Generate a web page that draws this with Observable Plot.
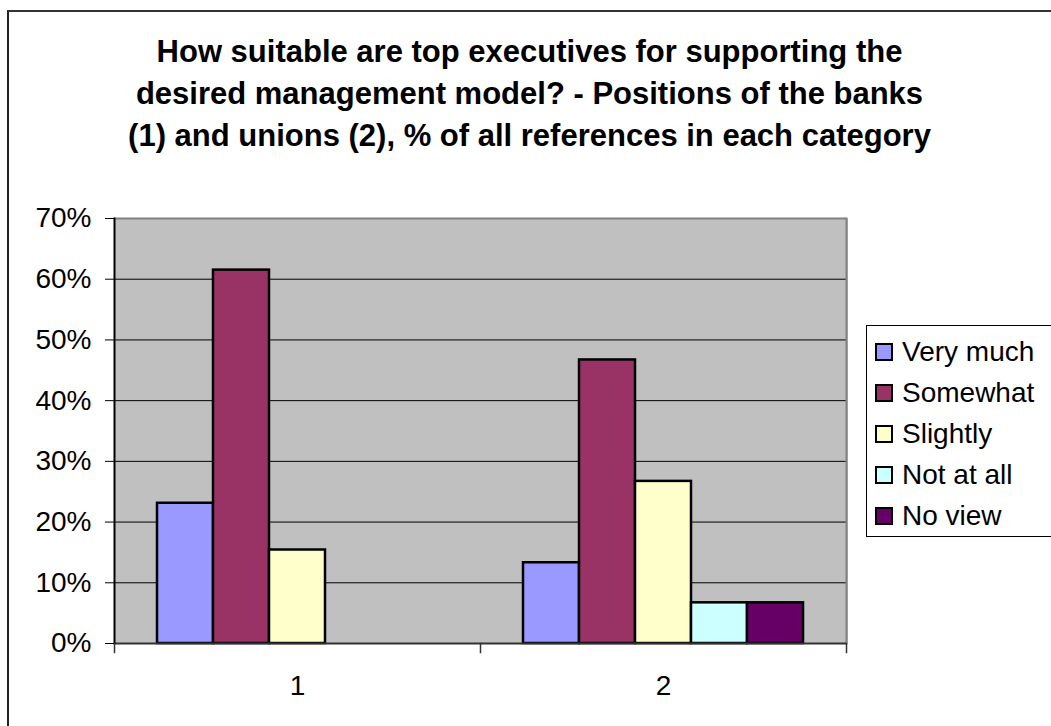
<!DOCTYPE html>
<html>
<head>
<meta charset="utf-8">
<script src="https://cdn.jsdelivr.net/npm/d3@7"></script>
<script src="https://cdn.jsdelivr.net/npm/@observablehq/plot@0.6"></script>
<style>
  html, body { margin: 0; padding: 0; background: #fff; }
  body { width: 1051px; height: 726px; overflow: hidden; position: relative; font-family: Arial, "Liberation Sans", sans-serif; }
  #border { position: absolute; left: 7px; top: 10px; width: 1100px; height: 800px; border-left: 2px solid #222; border-top: 2px solid #333; box-sizing: border-box; }
  #title { position: absolute; left: 4px; top: 31px; width: 1051px; text-align: center; font-weight: bold; font-size: 31px; line-height: 42px; color: #000; }
  #chart { position: absolute; left: 0; top: 0; }
  #legend { position: absolute; left: 866px; top: 325px; width: 220px; height: 212px; border: 1px solid #000; box-sizing: border-box; background: #fff; padding-top: 5px; }
  .item { height: 41px; display: flex; align-items: center; font-size: 28px; color: #000; }
  .sw { width: 14px; height: 14px; border: 2px solid #000; margin-left: 8px; margin-right: 9px; }
</style>
</head>
<body>
<div id="border"></div>
<div id="chart"></div>
<div id="title">How suitable are top executives for supporting the<br>desired management model? - Positions of the banks<br>(1) and unions (2), % of all references in each category</div>
<div id="legend"></div>
<script>
const groups = ["1", "2"];
const categories = ["Very much", "Somewhat", "Slightly", "Not at all", "No view"];
const banks = [0.231, 0.615, 0.154, 0, 0];
const unions = [0.133, 0.467, 0.267, 0.067, 0.067];
const colors = ["#9999FF", "#993366", "#FFFFCC", "#CCFFFF", "#660066"];
const yTicks = [0, 0.1, 0.2, 0.3, 0.4, 0.5, 0.6, 0.7];
const gridTicks = [0.1, 0.2, 0.3, 0.4, 0.5, 0.6];

const data = [];
[banks, unions].forEach((vals, gi) => {
  vals.forEach((v, ci) => data.push({group: groups[gi], category: categories[ci], value: v}));
});

const W = 1051, H = 726;
const mTop = 218, mBottom = 83, mLeft = 114, mRight = 205;
const plotH = H - mTop - mBottom;

const chart = Plot.plot({
  width: W,
  height: H,
  marginTop: mTop,
  marginBottom: mBottom,
  marginLeft: mLeft,
  marginRight: mRight,
  style: { fontFamily: "Arial, 'Liberation Sans', sans-serif", fontSize: "28px", color: "#000", background: "transparent", overflow: "visible" },
  fx: { domain: groups, padding: 0, label: null },
  x: { domain: categories, paddingInner: 0, paddingOuter: 0.745, axis: null },
  y: { domain: [0, 0.7], label: null },
  color: { domain: categories, range: colors },
  marks: [
    Plot.frame({ fill: "#c0c0c0", stroke: null, insetRight: -1.5 }),
    Plot.gridY(gridTicks, { stroke: "#000", strokeOpacity: 1, strokeWidth: 1 }),
    Plot.ruleY([0.7], { stroke: "#808080", strokeWidth: 2 }),
    Plot.frame({ anchor: "right", facetAnchor: "right", stroke: "#808080", strokeWidth: 2 }),
    Plot.barY(data.filter(d => d.value > 0), {
      fx: "group", x: "category", y: "value", fill: "category",
      stroke: "#000", strokeWidth: 2.5
    }),
    Plot.ruleY([0], { stroke: "#333", strokeWidth: 2 }),
    Plot.frame({ anchor: "left", facetAnchor: "left", stroke: "#000", strokeWidth: 2 }),
    Plot.frame({ anchor: "left", stroke: "#333", strokeWidth: 1.5, insetTop: plotH, insetBottom: -9 }),
    Plot.frame({ anchor: "right", facetAnchor: "right", stroke: "#333", strokeWidth: 1.5, insetTop: plotH, insetBottom: -9 }),
    Plot.axisY(yTicks, { tickFormat: d3.format(".0%"), tickSize: 9, tickPadding: 14, stroke: "#000", fontSize: 28 }),
    Plot.axisFx({ anchor: "bottom", tickSize: 0, tickPadding: 32, fontSize: 28, label: null })
  ]
});
document.getElementById("chart").appendChild(chart);

const legend = document.getElementById("legend");
categories.forEach((c, i) => {
  const row = document.createElement("div");
  row.className = "item";
  const sw = document.createElement("div");
  sw.className = "sw";
  sw.style.background = colors[i];
  const label = document.createElement("span");
  label.textContent = c;
  row.appendChild(sw);
  row.appendChild(label);
  legend.appendChild(row);
});
</script>
</body>
</html>
